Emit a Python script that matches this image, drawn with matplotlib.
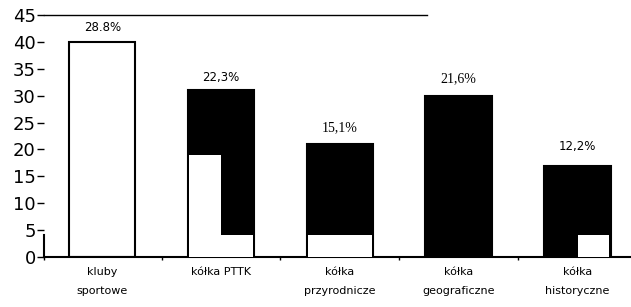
import numpy as np
import matplotlib.pyplot as plt

categories = ["kluby\nsportowe", "kółka PTTK", "kółka\nprzyrodnicze",
              "kółka\ngeograficzne", "kółka\nhistoryczne"]
values = [40, 31, 21, 30, 17]
percent_labels = ["28.8%", "22,3%", "15,1%", "21,6%", "12,2%"]
# scan leaves white patches in the lower part of the dark bars (left / right half)
white_left = [0, 19, 4, 0, 0]
white_right = [0, 4, 4, 0, 4]

fig = plt.figure(figsize=(6.31, 3.07), dpi=100)
ax = fig.add_axes([0.0697, 0.163, 0.9303, 0.788])

x = np.arange(len(values))
w = 0.56
e = 0.012  # keep the bar outline visible
colors = ["white"] + ["black"] * (len(values) - 1)
ax.bar(x, values, width=w, color=colors, edgecolor="black", linewidth=1.5, zorder=2)
ax.bar(x - w / 2 + e, white_left, width=w / 2 - e, align="edge",
       color="white", linewidth=0, zorder=3)
ax.bar(x, white_right, width=w / 2 - e, align="edge",
       color="white", linewidth=0, zorder=3)

serif = [False, False, True, True, False]
offs = [2.6, 2.4, 3.0, 3.2, 3.6]
for i in range(len(values)):
    if serif[i]:
        ax.text(x[i], values[i] + offs[i], percent_labels[i], ha="center", va="center",
                fontsize=10, family="Liberation Serif")
    else:
        ax.text(x[i], values[i] + offs[i], percent_labels[i], ha="center", va="center",
                fontsize=8.5, family="DejaVu Sans")

ax.set_xlim(-0.49, 4.45)
ax.set_ylim(0, 45)
ax.set_yticks(range(0, 46, 5))
ax.tick_params(axis="y", labelsize=13, length=5, width=1, pad=1)

ax.set_xticks([-0.49, 0.5, 1.5, 2.5, 3.5])
ax.set_xticklabels([])
ax.tick_params(axis="x", which="major", length=2, width=1)
ax.set_xticks(x, minor=True)
ax.set_xticklabels(categories, minor=True, fontsize=8, linespacing=2.2)
ax.tick_params(axis="x", which="minor", length=0, pad=7)

ax.spines["right"].set_visible(False)
ax.spines["left"].set_bounds(0, 4)
ax.spines["left"].set_linewidth(1.5)
ax.spines["top"].set_bounds(-0.49, 2.73)
ax.spines["top"].set_linewidth(1)
ax.spines["bottom"].set_linewidth(1.5)

fig.savefig("out.png", dpi=100)
